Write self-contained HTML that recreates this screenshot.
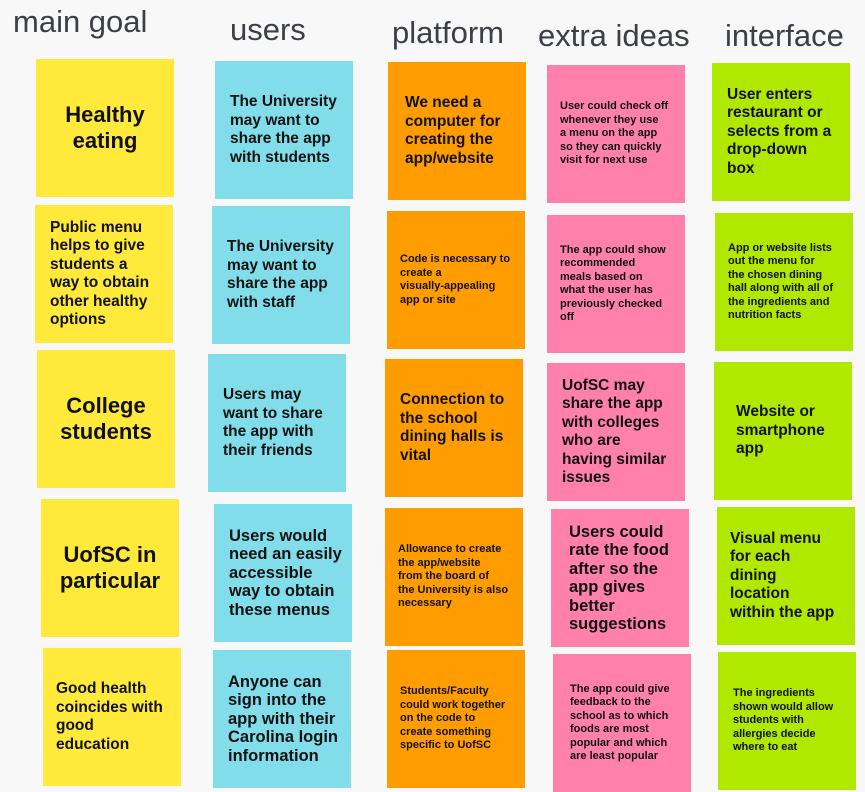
<!DOCTYPE html>
<html><head><meta charset="utf-8"><style>
body{margin:0;width:865px;height:787px;background:#f8f8f8;position:relative;overflow:hidden;font-family:"Liberation Sans",Arial,sans-serif}
.h{position:absolute;color:#3c4045;font-size:31px;white-space:nowrap}
.n{position:absolute;width:138px;height:138px;box-sizing:border-box;font-weight:bold;color:#111;display:flex;flex-direction:column;justify-content:center;white-space:nowrap}
.y{background:#ffe93a}.c{background:#80dde9}.o{background:#ff9d00}.p{background:#ff80ab}.g{background:#b0e800}
.L{font-size:22px;line-height:26px;text-align:center;align-items:center}
.M{font-size:15.5px;line-height:18.5px;padding-left:15px}
.S{font-size:11px;line-height:13.5px;padding-left:13px}
</style></head><body>
<div class="h" style="left:13px;top:4px">main goal</div>
<div class="h" style="left:230px;top:12px">users</div>
<div class="h" style="left:392px;top:15px">platform</div>
<div class="h" style="left:538px;top:18px">extra ideas</div>
<div class="h" style="left:725px;top:18px">interface</div>

<div class="n y L" style="left:36px;top:59px">Healthy<br>eating</div>
<div class="n y M" style="left:35px;top:205px">Public menu<br>helps to give<br>students a<br>way to obtain<br>other healthy<br>options</div>
<div class="n y L" style="left:37px;top:350px">College<br>students</div>
<div class="n y L" style="left:41px;top:499px">UofSC in<br>particular</div>
<div class="n y M" style="left:43px;top:648px;padding-left:13px">Good health<br>coincides with<br>good<br>education</div>

<div class="n c M" style="left:215px;top:61px">The University<br>may want to<br>share the app<br>with students</div>
<div class="n c M" style="left:212px;top:206px">The University<br>may want to<br>share the app<br>with staff</div>
<div class="n c M" style="left:208px;top:354px">Users may<br>want to share<br>the app with<br>their friends</div>
<div class="n c M" style="left:214px;top:504px;font-size:16.5px">Users would<br>need an easily<br>accessible<br>way to obtain<br>these menus</div>
<div class="n c M" style="left:213px;top:650px;font-size:16.5px">Anyone can<br>sign into the<br>app with their<br>Carolina login<br>information</div>

<div class="n o M" style="left:388px;top:62px;padding-left:17px">We need a<br>computer for<br>creating the<br>app/website</div>
<div class="n o S" style="left:387px;top:211px">Code is necessary to<br>create a<br>visually-appealing<br>app or site</div>
<div class="n o M" style="left:385px;top:359px">Connection to<br>the school<br>dining halls is<br>vital</div>
<div class="n o S" style="left:385px;top:508px">Allowance to create<br>the app/website<br>from the board of<br>the University is also<br>necessary</div>
<div class="n o S" style="left:387px;top:650px">Students/Faculty<br>could work together<br>on the code to<br>create something<br>specific to UofSC</div>

<div class="n p S" style="left:547px;top:65px">User could check off<br>whenever they use<br>a menu on the app<br>so they can quickly<br>visit for next use</div>
<div class="n p S" style="left:547px;top:215px">The app could show<br>recommended<br>meals based on<br>what the user has<br>previously checked<br>off</div>
<div class="n p M" style="left:547px;top:363px">UofSC may<br>share the app<br>with colleges<br>who are<br>having similar<br>issues</div>
<div class="n p M" style="left:551px;top:509px;font-size:16.5px;padding-left:18px">Users could<br>rate the food<br>after so the<br>app gives<br>better<br>suggestions</div>
<div class="n p S" style="left:553px;top:654px;padding-left:17px">The app could give<br>feedback to the<br>school as to which<br>foods are most<br>popular and which<br>are least popular</div>

<div class="n g M" style="left:712px;top:63px">User enters<br>restaurant or<br>selects from a<br>drop-down<br>box</div>
<div class="n g S" style="left:715px;top:213px">App or website lists<br>out the menu for<br>the chosen dining<br>hall along with all of<br>the ingredients and<br>nutrition facts</div>
<div class="n g M" style="left:714px;top:362px;padding-left:22px">Website or<br>smartphone<br>app</div>
<div class="n g M" style="left:717px;top:507px;padding-left:13px">Visual menu<br>for each<br>dining<br>location<br>within the app</div>
<div class="n g S" style="left:718px;top:652px;padding-left:15px">The ingredients<br>shown would allow<br>students with<br>allergies decide<br>where to eat</div>
</body></html>
